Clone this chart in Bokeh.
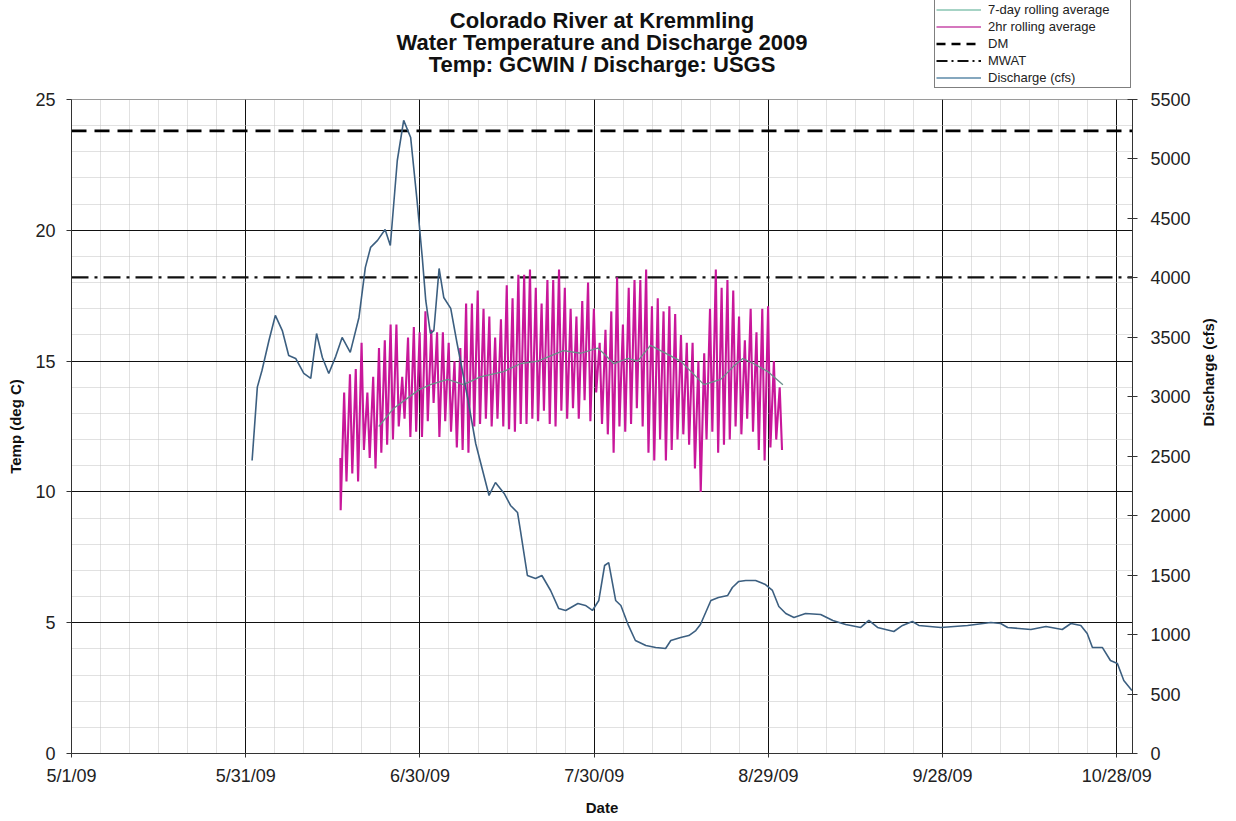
import math
import pandas as pd
from bokeh.plotting import figure
from bokeh.layouts import column
from bokeh.models import Range1d, LinearAxis, FixedTicker, Label, Legend, LegendItem
from bokeh.embed import file_html
from bokeh.resources import INLINE

# ---------------- data ----------------
title_lines = ["Colorado River at Kremmling",
               "Water Temperature and Discharge 2009",
               "Temp: GCWIN / Discharge: USGS"]
season_start = "2009-05-01"
season_end_day = 182.7           # days after 5/1/09 shown on the axis
x_tick_days = [0, 30, 60, 90, 120, 150, 180]
x_tick_labels = ["5/1/09", "5/31/09", "6/30/09", "7/30/09", "8/29/09", "9/28/09", "10/28/09"]
x_minor_step_days = 5
temp_ticks = [0, 5, 10, 15, 20, 25]
discharge_ticks = [0, 500, 1000, 1500, 2000, 2500, 3000, 3500, 4000, 4500, 5000, 5500]

DM = 23.8      # deg C
MWAT = 18.2    # deg C

# 2hr rolling average temperature: daily lows and highs from 6/16/09
temp_first_day = "2009-06-16"
temp_start_value = 11.3
temp_daily_low = [9.3, 10.4, 10.7, 10.4, 11.6, 11.3, 10.9, 11.5, 11.8, 12.0,
                  12.5, 12.8, 12.1, 12.3, 12.1, 12.7, 13.4, 12.1, 12.7, 12.3,
                  11.7, 11.6, 11.5, 12.5, 12.6, 12.8, 12.5, 12.8, 12.5, 12.4,
                  12.3, 12.6, 12.6, 12.8, 12.7, 13.1, 12.6, 12.5, 13.1, 12.8,
                  13.2, 12.8, 13.5, 12.7, 13.8, 12.6, 12.2, 11.5, 12.5, 12.3,
                  12.6, 13.2, 12.5, 11.5, 11.2, 12.0, 11.2, 11.6, 12.0, 12.2,
                  11.8, 10.9, 10.0, 12.0, 12.3, 11.5, 11.8, 12.0, 12.5, 12.2,
                  12.8, 12.3, 11.6, 11.2, 11.7, 12.0]
temp_daily_high = [13.8, 14.5, 14.7, 15.7, 13.8, 14.4, 15.5, 15.8, 16.4, 16.4,
                   14.4, 15.9, 16.3, 16.1, 16.9, 16.2, 16.1, 16.1, 15.7, 15.0,
                   15.5, 17.2, 17.2, 17.7, 17.0, 16.7, 15.9, 16.6, 17.9, 17.4,
                   18.3, 18.3, 18.5, 17.8, 17.2, 18.1, 18.1, 18.5, 17.8, 17.0,
                   16.7, 17.3, 18.0, 17.0, 15.7, 16.2, 16.9, 18.2, 16.4, 17.8,
                   18.1, 18.1, 18.5, 17.1, 17.4, 16.9, 17.1, 16.8, 16.0, 15.7,
                   15.7, 15.0, 15.3, 17.0, 18.5, 17.8, 18.1, 17.7, 16.7, 15.8,
                   17.0, 16.1, 17.0, 17.1, 15.0, 14.0]
temp_end_value = 11.6

# 7-day rolling average (days after 5/1/09, deg C)
roll7_day = [52.9, 55.5, 59.8, 61.8, 64.8, 67.5, 70.4, 74.4, 77.3, 80.3, 84.7,
             87.7, 90.6, 91.6, 93.4, 95.8, 97.5, 99.7, 104.9, 108.9, 111.8,
             114.0, 115.6, 117.5, 119.9, 122.5]
roll7_temp = [12.5, 13.2, 13.9, 14.1, 14.3, 14.1, 14.4, 14.6, 14.9, 15.0, 15.4,
              15.3, 15.5, 15.3, 14.9, 15.1, 15.0, 15.6, 15.0, 14.1, 14.3,
              14.8, 15.1, 14.9, 14.6, 14.1]

# Discharge (days after 5/1/09, cfs)
discharge_day = [31.1, 32.0, 32.8, 34.0, 35.1, 36.3, 37.4, 38.6, 40.0, 41.2, 42.2,
                 43.2, 44.3, 45.5, 46.6, 48.0, 49.5, 50.6, 51.5, 52.7, 54.0, 54.9,
                 56.1, 57.2, 58.4, 59.5, 60.4, 61.0, 61.8, 62.4, 63.3, 64.1, 65.3,
                 66.4, 68.2, 69.6, 71.9, 73.0, 74.5, 75.6, 76.8, 77.3, 78.5, 79.9,
                 81.0, 82.5, 83.9, 85.1, 87.2, 88.5, 89.7, 90.8, 91.8, 92.5, 93.7,
                 94.6, 95.9, 97.1, 98.9, 100.6, 102.3, 103.2, 104.9, 106.3, 107.5,
                 108.3, 110.1, 111.4, 113.0, 113.8, 114.9, 116.1, 117.8, 119.5,
                 120.7, 121.8, 123.0, 124.4, 126.4, 129.0, 131.1, 133.3, 134.2,
                 135.9, 137.3, 138.8, 141.6, 143.1, 144.8, 145.9, 149.7, 154.3,
                 158.3, 160.0, 161.2, 165.2, 167.8, 170.6, 172.1, 173.8, 174.9,
                 175.8, 177.5, 178.9, 180.1, 181.2, 182.6]
discharge_cfs = [2464, 3081, 3221, 3473, 3684, 3557, 3347, 3322, 3196, 3154, 3532,
                 3330, 3196, 3340, 3499, 3373, 3667, 4088, 4256, 4315, 4407, 4272,
                 4987, 5324, 5181, 4651, 4172, 3810, 3532, 3557, 4079, 3835, 3743,
                 3448, 2994, 2607, 2170, 2279, 2187, 2086, 2027, 1876, 1497, 1472,
                 1497, 1371, 1219, 1203, 1262, 1245, 1203, 1287, 1581, 1606, 1287,
                 1245, 1077, 950, 908, 892, 883, 950, 976, 992, 1034,
                 1085, 1287, 1312, 1329, 1396, 1447, 1455, 1455, 1421,
                 1371, 1236, 1177, 1144, 1177, 1169, 1119, 1085, 1077,
                 1060, 1119, 1060, 1026, 1077, 1110, 1077, 1060, 1077,
                 1102, 1093, 1060, 1043, 1068, 1043, 1093, 1077, 1009,
                 892, 892, 782, 757, 614, 530]

# ---------------- styles ----------------
FONT = "Liberation Sans"
TXT = "#222222"
C_2HR = "#C8179A"
C_7D = "#6A8F8A"
C_Q = "#3C5F80"
DM_DASH = "15 8"
MWAT_DASH = "17 6 3 6"

# ---------------- build series ----------------
d0 = (pd.Timestamp(temp_first_day) - pd.Timestamp(season_start)).days
n = min(len(temp_daily_low), len(temp_daily_high))
temp_x = [d0 + 0.3]
temp_y = [temp_start_value]
for i in range(n):
    temp_x += [d0 + i + 0.35, d0 + i + 0.95]
    temp_y += [temp_daily_low[i], temp_daily_high[i]]
temp_x.append(d0 + n + 0.35)
temp_y.append(temp_end_value)

W = 1236
H = 821
HEAD_H = 88
TOP = 99 - HEAD_H
MAIN_H = H - HEAD_H
LEFT, RIGHT, BOTTOM = 71, 104, 68

# ---------------- header (title + legend) ----------------
# header frame is aligned with the main frame horizontally; use page pixels as data
h = figure(width=W, height=HEAD_H, x_range=Range1d(LEFT, W - RIGHT),
           y_range=Range1d(HEAD_H, 0),
           output_backend="svg", toolbar_location=None, title=None,
           x_axis_location=None, y_axis_location=None,
           min_border=0, min_border_left=LEFT, min_border_right=RIGHT,
           min_border_top=0, min_border_bottom=0)
h.grid.visible = False
h.outline_line_color = None
h.background_fill_color = "white"
h.border_fill_color = "white"

frame_center = LEFT + (W - LEFT - RIGHT) / 2
for line_text, ty in zip(title_lines, [20, 42, 64]):
    h.add_layout(Label(x=frame_center, y=ty, text=line_text, text_align="center",
                       text_baseline="middle", text_font=FONT,
                       text_font_size="22px", text_font_style="bold",
                       text_color="#111111"))

# legend key proxies (kept outside the visible header range)
off = [-500, -500]
k_7d = h.line(off, off, line_color="#4FA88C", line_width=1.2)
k_2hr = h.line(off, off, line_color="#C74AA8", line_width=1.5)
k_dm = h.line(off, off, line_color="black", line_width=2.6, line_dash="9 6")
k_mw = h.line(off, off, line_color="#111111", line_width=2.2, line_dash="11 4 2 4")
k_q = h.line(off, off, line_color="#5C8AA8", line_width=1.5)
legend = Legend(items=[
    LegendItem(label="7-day rolling average", renderers=[k_7d]),
    LegendItem(label="2hr rolling average", renderers=[k_2hr]),
    LegendItem(label="DM", renderers=[k_dm]),
    LegendItem(label="MWAT", renderers=[k_mw]),
    LegendItem(label="Discharge (cfs)", renderers=[k_q]),
], location=(934 - LEFT, 0))
legend.label_text_font = FONT
legend.label_text_font_size = "13px"
legend.label_text_color = TXT
legend.glyph_width = 45
legend.glyph_height = 17
legend.label_height = 17
legend.label_standoff = 7
legend.label_width = 141
legend.spacing = 0
legend.padding = 1
legend.margin = 0
legend.border_line_color = "black"
legend.border_line_width = 1
legend.background_fill_color = "white"
legend.background_fill_alpha = 1
h.add_layout(legend, "center")

# ---------------- main chart ----------------
p = figure(width=W, height=MAIN_H,
           x_range=Range1d(0, season_end_day), y_range=Range1d(0, 25),
           output_backend="svg", toolbar_location=None, title=None,
           min_border_left=LEFT, min_border_right=RIGHT,
           min_border_top=TOP, min_border_bottom=BOTTOM)
p.background_fill_color = "white"
p.border_fill_color = "white"
p.outline_line_color = "#9a9a9a"
p.extra_y_ranges = {"q": Range1d(0, 5500)}

minor_x = list(range(0, int(season_end_day) + 1, x_minor_step_days))
p.xgrid.ticker = FixedTicker(ticks=x_tick_days, minor_ticks=minor_x)
p.ygrid.ticker = FixedTicker(ticks=temp_ticks, minor_ticks=list(range(0, 26)))
for g in (p.xgrid, p.ygrid):
    g.grid_line_color = "#111111"
    g.grid_line_width = 1
    g.minor_grid_line_color = "#c2c2c2"
    g.minor_grid_line_dash = "1 1"
    g.minor_grid_line_width = 1

xa = p.xaxis[0]
xa.ticker = FixedTicker(ticks=x_tick_days)
xa.major_label_overrides = {d: lab for d, lab in zip(x_tick_days, x_tick_labels)}
xa.axis_label = "Date"
ya = p.yaxis[0]
ya.ticker = FixedTicker(ticks=temp_ticks)
ya.axis_label = "Temp (deg C)"

qa = LinearAxis(y_range_name="q", ticker=FixedTicker(ticks=discharge_ticks),
                axis_label="Discharge (cfs)")
p.add_layout(qa, "right")

for ax in (xa, ya, qa):
    ax.axis_line_color = "#333333"
    ax.major_tick_line_color = "#333333"
    ax.minor_tick_line_color = None
    ax.major_label_text_font = FONT
    ax.major_label_text_font_size = "18px"
    ax.major_label_text_color = TXT
    ax.axis_label_text_font = FONT
    ax.axis_label_text_font_size = "15px"
    ax.axis_label_text_font_style = "bold"
    ax.axis_label_text_color = "#111111"

xa.major_tick_out = 4; xa.major_tick_in = 0
xa.major_label_standoff = 8; xa.axis_label_standoff = 10
ya.major_tick_out = 5; ya.major_tick_in = 0
ya.major_label_standoff = 11; ya.axis_label_standoff = 8
qa.major_tick_out = 5; qa.major_tick_in = 5
qa.major_label_standoff = 13; qa.axis_label_standoff = 15
try:
    qa.axis_label_orientation = math.pi / 2
except Exception:
    pass

x_span = [0, season_end_day]
p.line(x_span, [DM, DM], line_color="black", line_width=2.6, line_dash=DM_DASH)
p.line(x_span, [MWAT, MWAT], line_color="#111111", line_width=2.2, line_dash=MWAT_DASH)

p.line(temp_x, temp_y, line_color=C_2HR, line_width=2.1)
p.line(roll7_day, roll7_temp, line_color=C_7D, line_width=1.3)
p.line(discharge_day, discharge_cfs, y_range_name="q", line_color=C_Q, line_width=1.6)

layout = column(h, p, spacing=0)
open("out.html", "w").write(file_html(layout, INLINE))
